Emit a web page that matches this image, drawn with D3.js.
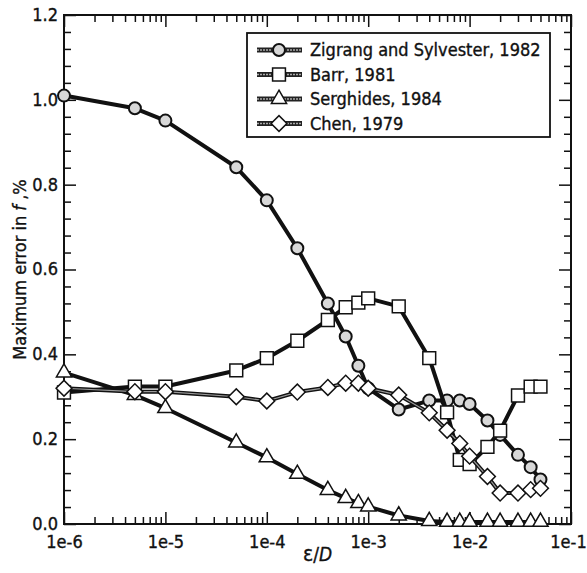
<!DOCTYPE html>
<html>
<head>
<meta charset="utf-8">
<script src="https://cdn.jsdelivr.net/npm/d3@7"></script>
<style>
  body { margin: 0; background: #fff; }
  svg text { font-family: "DejaVu Sans Condensed", "DejaVu Sans", sans-serif; font-stretch: condensed; fill: #111; stroke: #111; stroke-width: 0.35; }
</style>
</head>
<body>
<svg id="chart" width="587" height="573"></svg>
<script>
// roughness values (epsilon / D)
const roughness = [1e-6, 5e-6, 1e-5, 5e-5, 1e-4, 2e-4, 4e-4, 6e-4, 8e-4, 1e-3, 2e-3, 4e-3, 6e-3, 8e-3, 1e-2, 1.5e-2, 2e-2, 3e-2, 4e-2, 5e-2];

// maximum error in f, %
const zigrang    = [1.01, 0.98, 0.951, 0.841, 0.763, 0.650, 0.520, 0.442, 0.373, 0.32, 0.270, 0.291, 0.291, 0.291, 0.283, 0.244, 0.21, 0.163, 0.134, 0.105];
const barr       = [0.310, 0.324, 0.324, 0.362, 0.391, 0.432, 0.481, 0.511, 0.522, 0.532, 0.513, 0.391, 0.263, 0.151, 0.141, 0.182, 0.220, 0.303, 0.324, 0.324];
const serghides  = [0.357, 0.304, 0.273, 0.192, 0.157, 0.118, 0.080, 0.061, 0.049, 0.041, 0.020, 0.007, 0.005, 0.005, 0.005, 0.005, 0.005, 0.005, 0.005, 0.005];
const chen       = [0.320, 0.312, 0.312, 0.300, 0.290, 0.311, 0.322, 0.332, 0.332, 0.320, 0.304, 0.262, 0.221, 0.190, 0.160, 0.112, 0.073, 0.073, 0.081, 0.084];

const seriesNames = ["Zigrang and Sylvester, 1982", "Barr, 1981", "Serghides, 1984", "Chen, 1979"];
const seriesValues = [zigrang, barr, serghides, chen];
const seriesMarkers = ["circle", "square", "triangle", "diamond"];

const xMajor = [1e-6, 1e-5, 1e-4, 1e-3, 1e-2, 1e-1];
const yMajor = [0, 0.2, 0.4, 0.6, 0.8, 1.0, 1.2];

const svg = d3.select("#chart");
const pLeft = 64, pRight = 571, pTop = 15, pBottom = 524;

const x = d3.scaleLog().domain([1e-6, 1e-1]).range([pLeft, pRight]);
const y = d3.scaleLinear().domain([0, 1.2]).range([pBottom, pTop]);

// minor ticks
const xMinor = [];
for (let k = -6; k <= -2; k++) for (let m = 2; m <= 9; m++) xMinor.push(m * Math.pow(10, k));
const yMinor = d3.range(0, 1.2001, 0.04).filter(v => Math.abs(v / 0.2 - Math.round(v / 0.2)) > 1e-6);

function axisG(axis, tx, ty) {
  const g = svg.append("g").attr("transform", "translate(" + tx + "," + ty + ")").call(axis);
  g.select(".domain").remove();
  g.selectAll(".tick line").attr("stroke", "#111").attr("stroke-width", 1.5);
  return g;
}

// bottom
const xLabels = axisG(d3.axisBottom(x).tickValues(xMajor).tickSize(-12).tickPadding(11)
  .tickFormat(d => "1e" + Math.round(Math.log10(d))), 0, pBottom)
  .selectAll("text").attr("font-size", 18).attr("dy", "0.72em");
xLabels.filter(d => d === 1e-1).attr("dx", -3);
axisG(d3.axisBottom(x).tickValues(xMinor).tickSize(-7).tickFormat(""), 0, pBottom);
// top
axisG(d3.axisTop(x).tickValues(xMajor).tickSize(-12).tickFormat(""), 0, pTop);
axisG(d3.axisTop(x).tickValues(xMinor).tickSize(-7).tickFormat(""), 0, pTop);
// left
axisG(d3.axisLeft(y).tickValues(yMajor).tickSize(-12).tickPadding(6).tickFormat(d3.format(".1f")), pLeft, 0)
  .selectAll("text").attr("font-size", 18).attr("dy", "0.3em");
axisG(d3.axisLeft(y).tickValues(yMinor).tickSize(-7).tickFormat(""), pLeft, 0);
// right
axisG(d3.axisRight(y).tickValues(yMajor).tickSize(-12).tickFormat(""), pRight, 0);
axisG(d3.axisRight(y).tickValues(yMinor).tickSize(-7).tickFormat(""), pRight, 0);

// frame
svg.append("rect")
  .attr("x", pLeft).attr("y", pTop)
  .attr("width", pRight - pLeft).attr("height", pBottom - pTop)
  .attr("fill", "none").attr("stroke", "#111").attr("stroke-width", 2);

// marker shapes
function drawMarker(sel, kind) {
  if (kind === "circle") {
    sel.append("circle").attr("r", 6).attr("fill", "#d8d8d8").attr("stroke", "#111").attr("stroke-width", 2);
  } else if (kind === "square") {
    sel.append("path").attr("d", d3.symbol(d3.symbolSquare, 165)())
      .attr("fill", "#fff").attr("stroke", "#111").attr("stroke-width", 1.5);
  } else if (kind === "triangle") {
    sel.append("path").attr("d", d3.symbol(d3.symbolTriangle, 100)())
      .attr("fill", "#fff").attr("stroke", "#111").attr("stroke-width", 1.5);
  } else {
    sel.append("path").attr("d", d3.symbol(d3.symbolSquare, 125)())
      .attr("transform", "rotate(45)")
      .attr("fill", "#fff").attr("stroke", "#111").attr("stroke-width", 1.5);
  }
}

const line = d3.line().x(d => x(d[0])).y(d => y(d[1]));

seriesValues.forEach(function(vals, i) {
  const pts = roughness.map((r, j) => [r, vals[j]]);
  const g = svg.append("g").attr("class", "series");
  g.append("path").datum(pts).attr("d", line)
    .attr("fill", "none").attr("stroke", "#111").attr("stroke-width", 4).attr("stroke-linejoin", "round");
  if (i === 3) {
    g.append("path").datum(pts).attr("d", line)
      .attr("fill", "none").attr("stroke", "#999").attr("stroke-width", 1.2);
  }
  g.selectAll("g.pt").data(pts).enter().append("g")
    .attr("class", "pt")
    .attr("transform", d => "translate(" + x(d[0]) + "," + y(d[1]) + ")")
    .each(function() { drawMarker(d3.select(this), seriesMarkers[i]); });
});

// legend
const legend = svg.append("g");
legend.append("rect")
  .attr("x", 247).attr("y", 33).attr("width", 303).attr("height", 104)
  .attr("fill", "#fff").attr("stroke", "#111").attr("stroke-width", 1.8);
const rowY = d3.scaleLinear().domain([0, 3]).range([50, 123.5]);
seriesNames.forEach(function(name, i) {
  const yy = rowY(i);
  legend.append("line").attr("x1", 257).attr("x2", 302).attr("y1", yy).attr("y2", yy)
    .attr("stroke", "#222").attr("stroke-width", 5);
  legend.append("line").attr("x1", 257).attr("x2", 302).attr("y1", yy).attr("y2", yy)
    .attr("stroke", "#aaa").attr("stroke-width", 1.5).attr("stroke-dasharray", "2,1");
  const mg = legend.append("g").attr("transform", "translate(279," + yy + ")");
  drawMarker(mg, seriesMarkers[i]);
  legend.append("text").attr("x", 310).attr("y", yy).attr("dy", "0.36em")
    .attr("font-size", 18).text(name);
});

// axis titles
const xl = svg.append("text").attr("x", (pLeft + pRight) / 2).attr("y", 561)
  .attr("text-anchor", "middle").attr("font-size", 19);
xl.append("tspan").attr("font-size", 21).text("\u03b5");
xl.append("tspan").text("/");
xl.append("tspan").attr("font-style", "italic").text("D");

const yl = svg.append("text")
  .attr("transform", "translate(26," + ((pTop + pBottom) / 2) + ") rotate(-90)")
  .attr("text-anchor", "middle").attr("font-size", 18);
yl.append("tspan").text("Maximum error in ");
yl.append("tspan").attr("font-style", "italic").text("f");
yl.append("tspan").text(" ,%");
</script>
</body>
</html>
